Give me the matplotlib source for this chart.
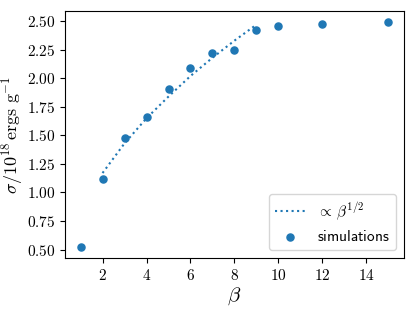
import matplotlib

matplotlib.use("Agg")
import matplotlib.pyplot as plt
from matplotlib.ticker import FuncFormatter

plt.rcParams["mathtext.fontset"] = "cm"

COLOR_SERIES = "#1f77b4"

# simulation results
beta = [1, 2, 3, 4, 5, 6, 7, 8, 9, 10, 12, 15]
sigma = [0.523, 1.119, 1.474, 1.663, 1.909, 2.090, 2.225, 2.248, 2.426, 2.456, 2.474, 2.492]

# dotted reference line, proportional to beta^(1/2)
fit_beta = [2, 3, 4, 5, 6, 7, 8, 9]
fit_sigma = [1.17, 1.43, 1.65, 1.84, 2.02, 2.18, 2.33, 2.47]

fig = plt.figure(figsize=(4.15, 3.11), dpi=100)
ax = fig.add_axes([0.157, 0.170, 0.816, 0.795])

ax.plot(fit_beta, fit_sigma, linestyle=":", color=COLOR_SERIES, linewidth=1.5, label=r"$\propto\,\beta^{1/2}$")
ax.scatter(beta, sigma, color=COLOR_SERIES, s=26, zorder=3, label=r"$\mathsf{simulations}$")

ax.set_xticks([2, 4, 6, 8, 10, 12, 14])
ax.set_yticks([0.5, 0.75, 1.0, 1.25, 1.5, 1.75, 2.0, 2.25, 2.5])
ax.xaxis.set_major_formatter(FuncFormatter(lambda v, _: f"${v:.0f}$"))
ax.yaxis.set_major_formatter(FuncFormatter(lambda v, _: f"${v:.2f}$"))
ax.tick_params(labelsize=11)

ax.set_xlabel(r"$\beta$", fontsize=15, labelpad=2)
ax.set_ylabel(r"$\sigma/10^{18}\,\mathrm{ergs\ g^{-1}}$", fontsize=13, labelpad=1)

ax.legend(loc="lower right", fontsize=11)

fig.savefig("out.png")
plt.close(fig)
